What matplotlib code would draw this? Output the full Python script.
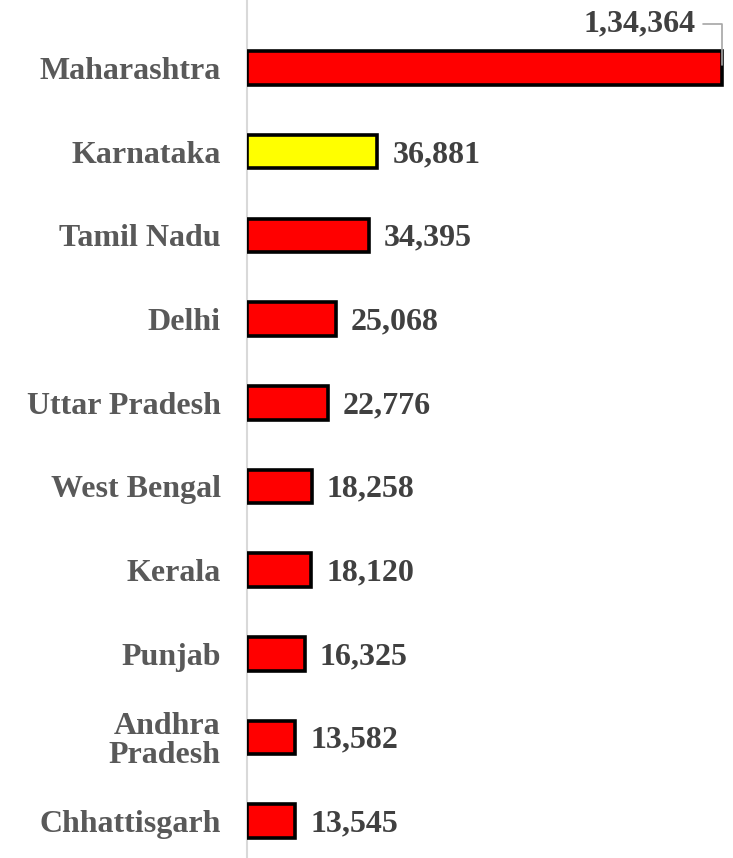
import numpy as np
import matplotlib.pyplot as plt

states = ["Maharashtra", "Karnataka", "Tamil Nadu", "Delhi", "Uttar Pradesh",
          "West Bengal", "Kerala", "Punjab", "Andhra\nPradesh", "Chhattisgarh"]
values = [134364, 36881, 34395, 25068, 22776, 18258, 18120, 16325, 13582, 13545]
value_labels = ["1,34,364", "36,881", "34,395", "25,068", "22,776",
                "18,258", "18,120", "16,325", "13,582", "13,545"]
colors = ["#ff0000", "#ffff00"] + ["#ff0000"] * 8

plt.rcParams['font.family'] = ['Liberation Serif', 'DejaVu Serif']

fig = plt.figure(figsize=(7.33, 8.58), dpi=100)
ax = fig.add_axes([247 / 733, 0, 477 / 733, 1])

y = np.arange(len(states))
ax.barh(y, values, height=0.4, color=colors, edgecolor="black", linewidth=2.6, zorder=3)

ax.set_xlim(0, values[0] * 477 / 475)
ax.set_ylim(9.44, -0.813)

ax.set_yticks(y)
ax.set_yticklabels(states, fontsize=23, fontweight="bold", color="#595959", linespacing=1.0)
ax.tick_params(axis="y", length=0, pad=19)
ax.set_xticks([])

for s in ["top", "right", "bottom"]:
    ax.spines[s].set_visible(False)
ax.spines["left"].set_color("#d9d9d9")
ax.spines["left"].set_linewidth(1.5)

for i, (v, lab) in enumerate(zip(values, value_labels)):
    if i == 0:
        ax.annotate(lab, xy=(v, i), xytext=(-19, 32), textcoords="offset points",
                    ha="right", va="center", fontsize=23, fontweight="bold", color="#404040",
                    arrowprops=dict(arrowstyle="-", color="#a6a6a6", lw=1.2,
                                    connectionstyle="angle,angleA=0,angleB=90,rad=0",
                                    relpos=(1, 0.5), shrinkA=3, shrinkB=2))
    else:
        ax.annotate(lab, xy=(v, i), xytext=(11, -2), textcoords="offset points",
                    ha="left", va="center", fontsize=23, fontweight="bold", color="#404040")

fig.savefig("out.png", dpi=100)
